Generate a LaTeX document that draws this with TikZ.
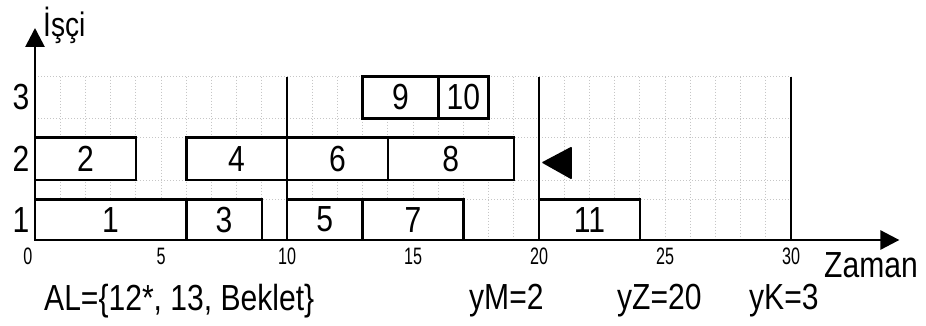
\documentclass[tikz,border=0pt]{standalone}
\usepackage{graphicx}
\usepackage{fontspec}
\setmainfont{Liberation Sans}
\usetikzlibrary{arrows.meta}
\newcommand\talltext[1]{\scalebox{0.97}[1.17]{#1}}
\newcommand\ticktext[1]{\scalebox{0.85}[1.25]{#1}}
\begin{document}
\begin{tikzpicture}[x=1pt,y=-1pt,
  gridline/.style={draw=gray!45,dotted,line width=1pt},
  axisline/.style={line width=2.8pt,-{Triangle[length=19pt,width=19pt]}},
  sepline/.style={line width=2.8pt},
  taskbox/.style={draw,line width=2.6pt,fill=white},
  tasklbl/.style={font=\fontsize{31}{36}\selectfont,inner sep=0pt},
  ticklbl/.style={font=\fontsize{19}{22}\selectfont,inner sep=0pt},
  biglbl/.style={font=\fontsize{31}{36}\selectfont,inner sep=0pt,anchor=west}]
\useasboundingbox (0,0) rectangle (926,326);
\begin{scope}[xshift=35pt,x=25.2pt,y=-1pt]
  % grid
  \foreach \t in {1,...,29} \draw[gridline] (\t,76.7) -- (\t,240);
  \foreach \yy in {76.7,118.3,137.3,180,199.3} \draw[gridline] (0,\yy) -- (30,\yy);
  % separators
  \foreach \t in {10,20,30} \draw[sepline] (\t,76.7) -- (\t,240);
  % axes
  \coordinate (o) at (0,240);
  \coordinate (ytip) at (0,28);
  \coordinate (xtip) at (34.3,240);
  \draw[axisline] (o) -- (ytip);
  \draw[axisline] (o) -- (xtip);
  % row 1
  \draw[taskbox] (0,199.3) rectangle (6,240) node[midway,tasklbl] (t1) {\talltext{1}};
  \draw[taskbox] (6,199.3) rectangle (9,240) node[midway,tasklbl] (t3) {\talltext{3}};
  \draw[taskbox] (10,199.3) rectangle (13,240) node[midway,tasklbl] (t5) {\talltext{5}};
  \draw[taskbox] (13,199.3) rectangle (17,240) node[midway,tasklbl] (t7) {\talltext{7}};
  \draw[taskbox] (20,199.3) rectangle (24,240) node[midway,tasklbl] (t11) {\talltext{11}};
  % row 2
  \draw[taskbox] (0,137.3) rectangle (4,180) node[midway,tasklbl] (t2) {\talltext{2}};
  \draw[taskbox] (6,137.3) rectangle (10,180) node[midway,tasklbl] (t4) {\talltext{4}};
  \draw[taskbox] (10,137.3) rectangle (14,180) node[midway,tasklbl] (t6) {\talltext{6}};
  \draw[taskbox] (14,137.3) rectangle (19,180) node[midway,tasklbl] (t8) {\talltext{8}};
  % row 3
  \draw[taskbox] (13,76.7) rectangle (16,118.3) node[midway,tasklbl] (t9) {\talltext{9}};
  \draw[taskbox] (16,76.7) rectangle (18,118.3) node[midway,tasklbl] (t10) {\talltext{10}};
  % separators over boxes
  \draw[sepline] (10,76.7) -- (10,240);
  \draw[sepline] (20,76.7) -- (20,240);
  % marker
  \fill[rounded corners=1pt] (20.1,162.5) -- (21.3,146.5) -- (21.3,179.5) -- cycle;
  % tick labels
  \node[ticklbl] (l0) at (-0.28,256) {\ticktext{0}};
  \foreach \t in {5,10,15,20,25,30} \node[ticklbl] (l\t) at (\t,256) {\ticktext{\t}};
\end{scope}
% row labels
\node[tasklbl] (r3) at (21,97.5) {\talltext{3}};
\node[tasklbl] (r2) at (21,158.6) {\talltext{2}};
\node[tasklbl] (r1) at (21,219.6) {\talltext{1}};
% axis titles
\node[font=\fontsize{29}{34}\selectfont,inner sep=0pt,anchor=base west] (isci) at (43,37) {\talltext{İşçi}};
\node[biglbl] (zaman) at (824,265) {\talltext{Zaman}};
% bottom texts
\node[biglbl] (al) at (44,301) {\talltext{AL=\{12*, 13, Beklet\}}};
\node[biglbl] (ym) at (469,301) {\talltext{yM=2}};
\node[biglbl] (yz) at (617,301) {\talltext{yZ=20}};
\node[biglbl] (yk) at (749,301) {\talltext{yK=3}};
\end{tikzpicture}
\end{document}
